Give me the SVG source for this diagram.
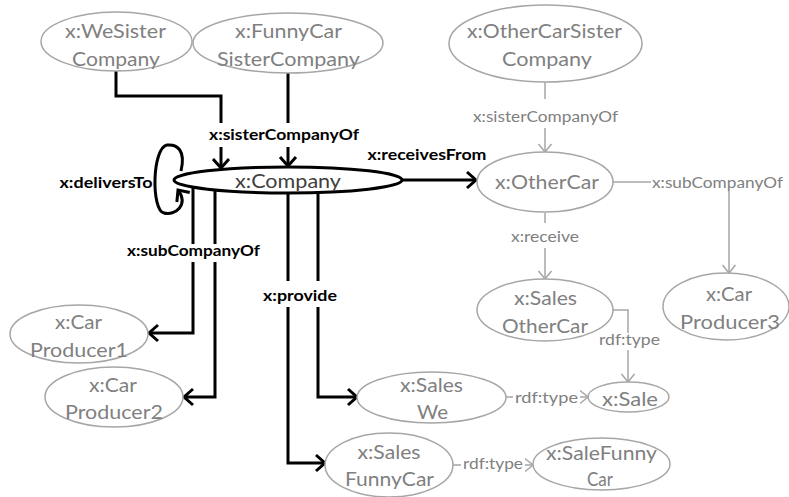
<svg xmlns="http://www.w3.org/2000/svg" width="789" height="497" viewBox="0 0 789 497">
  <style>
    .node ellipse { fill: #ffffff; stroke: #a6a6a6; stroke-width: 1.5; }
    .node text { font-family: Lato, "Liberation Sans", sans-serif; font-size: 19px; fill: #808080; text-anchor: middle; }
    .main ellipse { stroke: #000000; stroke-width: 3; }
    .main text { fill: #404040; }
    .edge-b { fill: none; stroke: #000000; stroke-width: 3; stroke-linejoin: miter; }
    .edge-g { fill: none; stroke: #a6a6a6; stroke-width: 1.5; }
    .lbl-b { font-family: Lato, "Liberation Sans", sans-serif; font-size: 16px; font-weight: bold; fill: #000000; text-anchor: middle; }
    .lbl-g { font-family: Lato, "Liberation Sans", sans-serif; font-size: 15.5px; fill: #808080; text-anchor: middle; }
    .gap { fill: #ffffff; }
  </style>
  <defs>
    <marker id="arrow-b" markerUnits="userSpaceOnUse" markerWidth="20" markerHeight="20" viewBox="-12 -10 14 20" refX="0" refY="0" orient="auto">
      <path d="M -9,-8 L 0,0 L -9,8" fill="none" stroke="#000000" stroke-width="3"/>
    </marker>
    <marker id="arrow-g" markerUnits="userSpaceOnUse" markerWidth="16" markerHeight="16" viewBox="-10 -8 12 16" refX="0" refY="0" orient="auto">
      <path d="M -8,-6.5 L 0,0 L -8,6.5" fill="none" stroke="#a6a6a6" stroke-width="1.5"/>
    </marker>
  </defs>

  <rect width="789" height="497" fill="#ffffff"/>

  <!-- connectors -->
  <g id="connectors">
    <!-- sisterCompanyOf into x:Company -->
    <path class="edge-b" d="M 116,71 V 96 H 221 V 168" marker-end="url(#arrow-b)"/>
    <path class="edge-b" d="M 288,73 V 166" marker-end="url(#arrow-b)"/>
    <!-- deliversTo self loop -->
    <path class="edge-b" d="M 181,171 C 186,150 177,144 167,145 C 152,148 151,210 164,213 C 175,216 189,205 178,190" marker-end="url(#arrow-b)"/>
    <!-- receivesFrom -->
    <path class="edge-b" d="M 402,180 H 476" marker-end="url(#arrow-b)"/>
    <!-- subCompanyOf -->
    <path class="edge-b" d="M 193,187 V 333 H 149" marker-end="url(#arrow-b)"/>
    <path class="edge-b" d="M 215,190 V 397 H 184" marker-end="url(#arrow-b)"/>
    <!-- provide -->
    <path class="edge-b" d="M 318,192 V 397 H 357" marker-end="url(#arrow-b)"/>
    <path class="edge-b" d="M 288,193 V 463 H 325" marker-end="url(#arrow-b)"/>

    <!-- grey relations -->
    <path class="edge-g" d="M 545,82 V 152" marker-end="url(#arrow-g)"/>
    <path class="edge-g" d="M 613,182 H 652"/>
    <path class="edge-g" d="M 729,190 V 273" marker-end="url(#arrow-g)"/>
    <path class="edge-g" d="M 545,213 V 279" marker-end="url(#arrow-g)"/>
    <path class="edge-g" d="M 613,310 H 628 V 382" marker-end="url(#arrow-g)"/>
    <path class="edge-g" d="M 506,397 H 588" marker-end="url(#arrow-g)"/>
    <path class="edge-g" d="M 453,465 H 533" marker-end="url(#arrow-g)"/>

    <!-- label backgrounds break the lines -->
    <rect class="gap" x="207" y="123" width="154" height="24"/>
    <rect class="gap" x="125" y="244" width="137" height="18"/>
    <rect class="gap" x="261" y="281" width="78" height="26"/>
    <rect class="gap" x="471" y="99" width="149" height="29"/>
    <rect class="gap" x="651" y="174" width="134" height="17"/>
    <rect class="gap" x="520" y="223" width="50" height="25"/>
    <rect class="gap" x="597" y="333" width="64" height="17"/>
    <rect class="gap" x="513" y="388" width="67" height="18"/>
    <rect class="gap" x="461" y="456" width="64" height="18"/>

    <!-- labels -->
    <text class="lbl-b" x="284" y="140" textLength="150" lengthAdjust="spacingAndGlyphs">x:sisterCompanyOf</text>
    <text class="lbl-b" x="106" y="188" textLength="93" lengthAdjust="spacingAndGlyphs">x:deliversTo</text>
    <text class="lbl-b" x="427" y="160" textLength="119" lengthAdjust="spacingAndGlyphs">x:receivesFrom</text>
    <text class="lbl-b" x="193.5" y="256" textLength="133" lengthAdjust="spacingAndGlyphs">x:subCompanyOf</text>
    <text class="lbl-b" x="300" y="301" textLength="74" lengthAdjust="spacingAndGlyphs">x:provide</text>

    <text class="lbl-g" x="545.5" y="122" textLength="145" lengthAdjust="spacingAndGlyphs">x:sisterCompanyOf</text>
    <text class="lbl-g" x="717.5" y="188" textLength="131" lengthAdjust="spacingAndGlyphs">x:subCompanyOf</text>
    <text class="lbl-g" x="545" y="242" textLength="68" lengthAdjust="spacingAndGlyphs">x:receive</text>
    <text class="lbl-g" x="629.5" y="345" textLength="61" lengthAdjust="spacingAndGlyphs">rdf:type</text>
    <text class="lbl-g" x="546.5" y="403" textLength="63" lengthAdjust="spacingAndGlyphs">rdf:type</text>
    <text class="lbl-g" x="493" y="469" textLength="60" lengthAdjust="spacingAndGlyphs">rdf:type</text>
  </g>

  <!-- nodes -->
  <g id="n-wesister" class="node">
    <ellipse cx="116.5" cy="41.5" rx="75.5" ry="29.5"/>
    <text x="115.5" y="38" textLength="101" lengthAdjust="spacingAndGlyphs">x:WeSister</text>
    <text x="116" y="66" textLength="88" lengthAdjust="spacingAndGlyphs">Company</text>
  </g>
  <g id="n-funnycarsister" class="node">
    <ellipse cx="288" cy="43" rx="95" ry="30"/>
    <text x="288.5" y="38" textLength="107" lengthAdjust="spacingAndGlyphs">x:FunnyCar</text>
    <text x="288.5" y="66" textLength="143" lengthAdjust="spacingAndGlyphs">SisterCompany</text>
  </g>
  <g id="n-company" class="node main">
    <ellipse cx="288" cy="180" rx="114" ry="13"/>
    <text x="288" y="188" textLength="106" lengthAdjust="spacingAndGlyphs">x:Company</text>
  </g>
  <g id="n-othercarsister" class="node">
    <ellipse cx="545.5" cy="43.5" rx="96.5" ry="38.5"/>
    <text x="544.5" y="38" textLength="155" lengthAdjust="spacingAndGlyphs">x:OtherCarSister</text>
    <text x="547" y="66" textLength="90" lengthAdjust="spacingAndGlyphs">Company</text>
  </g>
  <g id="n-othercar" class="node">
    <ellipse cx="545" cy="182" rx="68" ry="30"/>
    <text x="547" y="189" textLength="104" lengthAdjust="spacingAndGlyphs">x:OtherCar</text>
  </g>
  <g id="n-salesothercar" class="node">
    <ellipse cx="545" cy="310" rx="68" ry="31"/>
    <text x="545.5" y="305" textLength="63" lengthAdjust="spacingAndGlyphs">x:Sales</text>
    <text x="545" y="333" textLength="86" lengthAdjust="spacingAndGlyphs">OtherCar</text>
  </g>
  <g id="n-producer3" class="node">
    <ellipse cx="726" cy="306.5" rx="63" ry="33.5"/>
    <text x="729" y="301" textLength="46" lengthAdjust="spacingAndGlyphs">x:Car</text>
    <text x="730" y="329" textLength="100" lengthAdjust="spacingAndGlyphs">Producer3</text>
  </g>
  <g id="n-sale" class="node">
    <ellipse cx="628.5" cy="397" rx="40.5" ry="15"/>
    <text x="630" y="406" textLength="56" lengthAdjust="spacingAndGlyphs">x:Sale</text>
  </g>
  <g id="n-saleswe" class="node">
    <ellipse cx="431.5" cy="397.5" rx="74.5" ry="25.5"/>
    <text x="431.5" y="392" textLength="63" lengthAdjust="spacingAndGlyphs">x:Sales</text>
    <text x="432.5" y="419" textLength="31" lengthAdjust="spacingAndGlyphs">We</text>
  </g>
  <g id="n-salesfunnycar" class="node">
    <ellipse cx="389" cy="465" rx="64" ry="32"/>
    <text x="389" y="459" textLength="63" lengthAdjust="spacingAndGlyphs">x:Sales</text>
    <text x="389.5" y="486" textLength="89" lengthAdjust="spacingAndGlyphs">FunnyCar</text>
  </g>
  <g id="n-salefunnycar" class="node">
    <ellipse cx="601.5" cy="464" rx="68.5" ry="26"/>
    <text x="601.5" y="460" textLength="111" lengthAdjust="spacingAndGlyphs">x:SaleFunny</text>
    <text x="600" y="486" textLength="26" lengthAdjust="spacingAndGlyphs">Car</text>
  </g>
  <g id="n-producer1" class="node">
    <ellipse cx="79" cy="334" rx="69" ry="29"/>
    <text x="78.5" y="329" textLength="47" lengthAdjust="spacingAndGlyphs">x:Car</text>
    <text x="79" y="357" textLength="98" lengthAdjust="spacingAndGlyphs">Producer1</text>
  </g>
  <g id="n-producer2" class="node">
    <ellipse cx="114" cy="397" rx="69" ry="30"/>
    <text x="113" y="392" textLength="48" lengthAdjust="spacingAndGlyphs">x:Car</text>
    <text x="114" y="419" textLength="98" lengthAdjust="spacingAndGlyphs">Producer2</text>
  </g>
</svg>
